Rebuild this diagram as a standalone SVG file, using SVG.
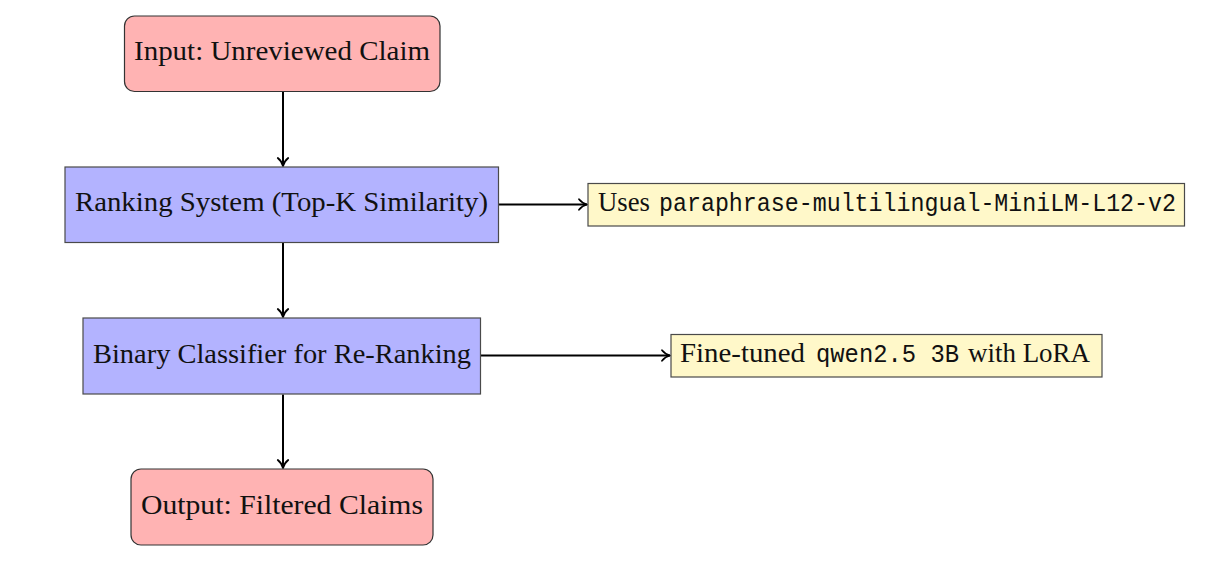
<svg xmlns="http://www.w3.org/2000/svg" width="1220" height="575" viewBox="0 0 1220 575">
  <style>
    .pink { fill: #FFB3B3; stroke: #333333; stroke-width: 1.2; }
    .blue { fill: #B3B3FF; stroke: #4a4a4a; stroke-width: 1.2; }
    .yellow { fill: #FFF8C9; stroke: #4a4a4a; stroke-width: 1.2; }
    .serif { font-family: "Liberation Serif", "Times New Roman", serif; font-size: 27px; fill: #111111; }
    .mono { font-family: "Liberation Mono", "DejaVu Sans Mono", monospace; font-size: 25px; fill: #111111; }
    .conn { stroke: #000000; stroke-width: 2; fill: none; }
  </style>
  <defs>
    <marker id="arr" markerUnits="userSpaceOnUse" markerWidth="14" markerHeight="14" viewBox="-10 -7 12 14" refX="0" refY="0" orient="auto">
      <path d="M -8,-5.2 C -5.4,-2 -2.4,-0.6 0,0 C -2.4,0.6 -5.4,2 -8,5.2" fill="none" stroke="#000000" stroke-width="1.8" stroke-linecap="round" stroke-linejoin="round"/>
    </marker>
  </defs>

  <g id="connectors">
    <line class="conn" x1="283" y1="91.5" x2="283" y2="166" marker-end="url(#arr)"/>
    <line class="conn" x1="283" y1="242.5" x2="283" y2="317" marker-end="url(#arr)"/>
    <line class="conn" x1="283" y1="394.5" x2="283" y2="468" marker-end="url(#arr)"/>
    <line class="conn" x1="499" y1="204.5" x2="587" y2="204.5" marker-end="url(#arr)"/>
    <line class="conn" x1="481" y1="355.5" x2="670" y2="355.5" marker-end="url(#arr)"/>
  </g>

  <g id="input">
    <rect class="pink" x="124.5" y="16" width="315.5" height="75.5" rx="10" ry="10"/>
    <text class="serif" x="134" y="60" textLength="296" lengthAdjust="spacingAndGlyphs">Input: Unreviewed Claim</text>
  </g>

  <g id="ranking">
    <rect class="blue" x="65" y="167" width="433.5" height="75.5"/>
    <text class="serif" x="75" y="211" textLength="413" lengthAdjust="spacingAndGlyphs">Ranking System (Top-K Similarity)</text>
  </g>

  <g id="binary">
    <rect class="blue" x="83" y="318" width="397.5" height="76"/>
    <text class="serif" x="93" y="362.5" textLength="378" lengthAdjust="spacingAndGlyphs">Binary Classifier for Re-Ranking</text>
  </g>

  <g id="output">
    <rect class="pink" x="131" y="469" width="302" height="76" rx="10" ry="10"/>
    <text class="serif" x="141" y="513.5" textLength="282" lengthAdjust="spacingAndGlyphs">Output: Filtered Claims</text>
  </g>

  <g id="uses">
    <rect class="yellow" x="588" y="183.5" width="596.5" height="42.5"/>
    <text y="211"><tspan class="serif" x="598" textLength="52" lengthAdjust="spacingAndGlyphs">Uses</tspan><tspan class="mono" x="659" textLength="517" lengthAdjust="spacingAndGlyphs">paraphrase-multilingual-MiniLM-L12-v2</tspan></text>
  </g>

  <g id="finetuned">
    <rect class="yellow" x="671" y="334.5" width="431" height="42.5"/>
    <text y="362"><tspan class="serif" x="680" textLength="125" lengthAdjust="spacingAndGlyphs">Fine-tuned</tspan><tspan class="mono" x="816" textLength="143" lengthAdjust="spacingAndGlyphs">qwen2.5 3B</tspan><tspan class="serif" x="968" textLength="122" lengthAdjust="spacingAndGlyphs">with LoRA</tspan></text>
  </g>
</svg>
